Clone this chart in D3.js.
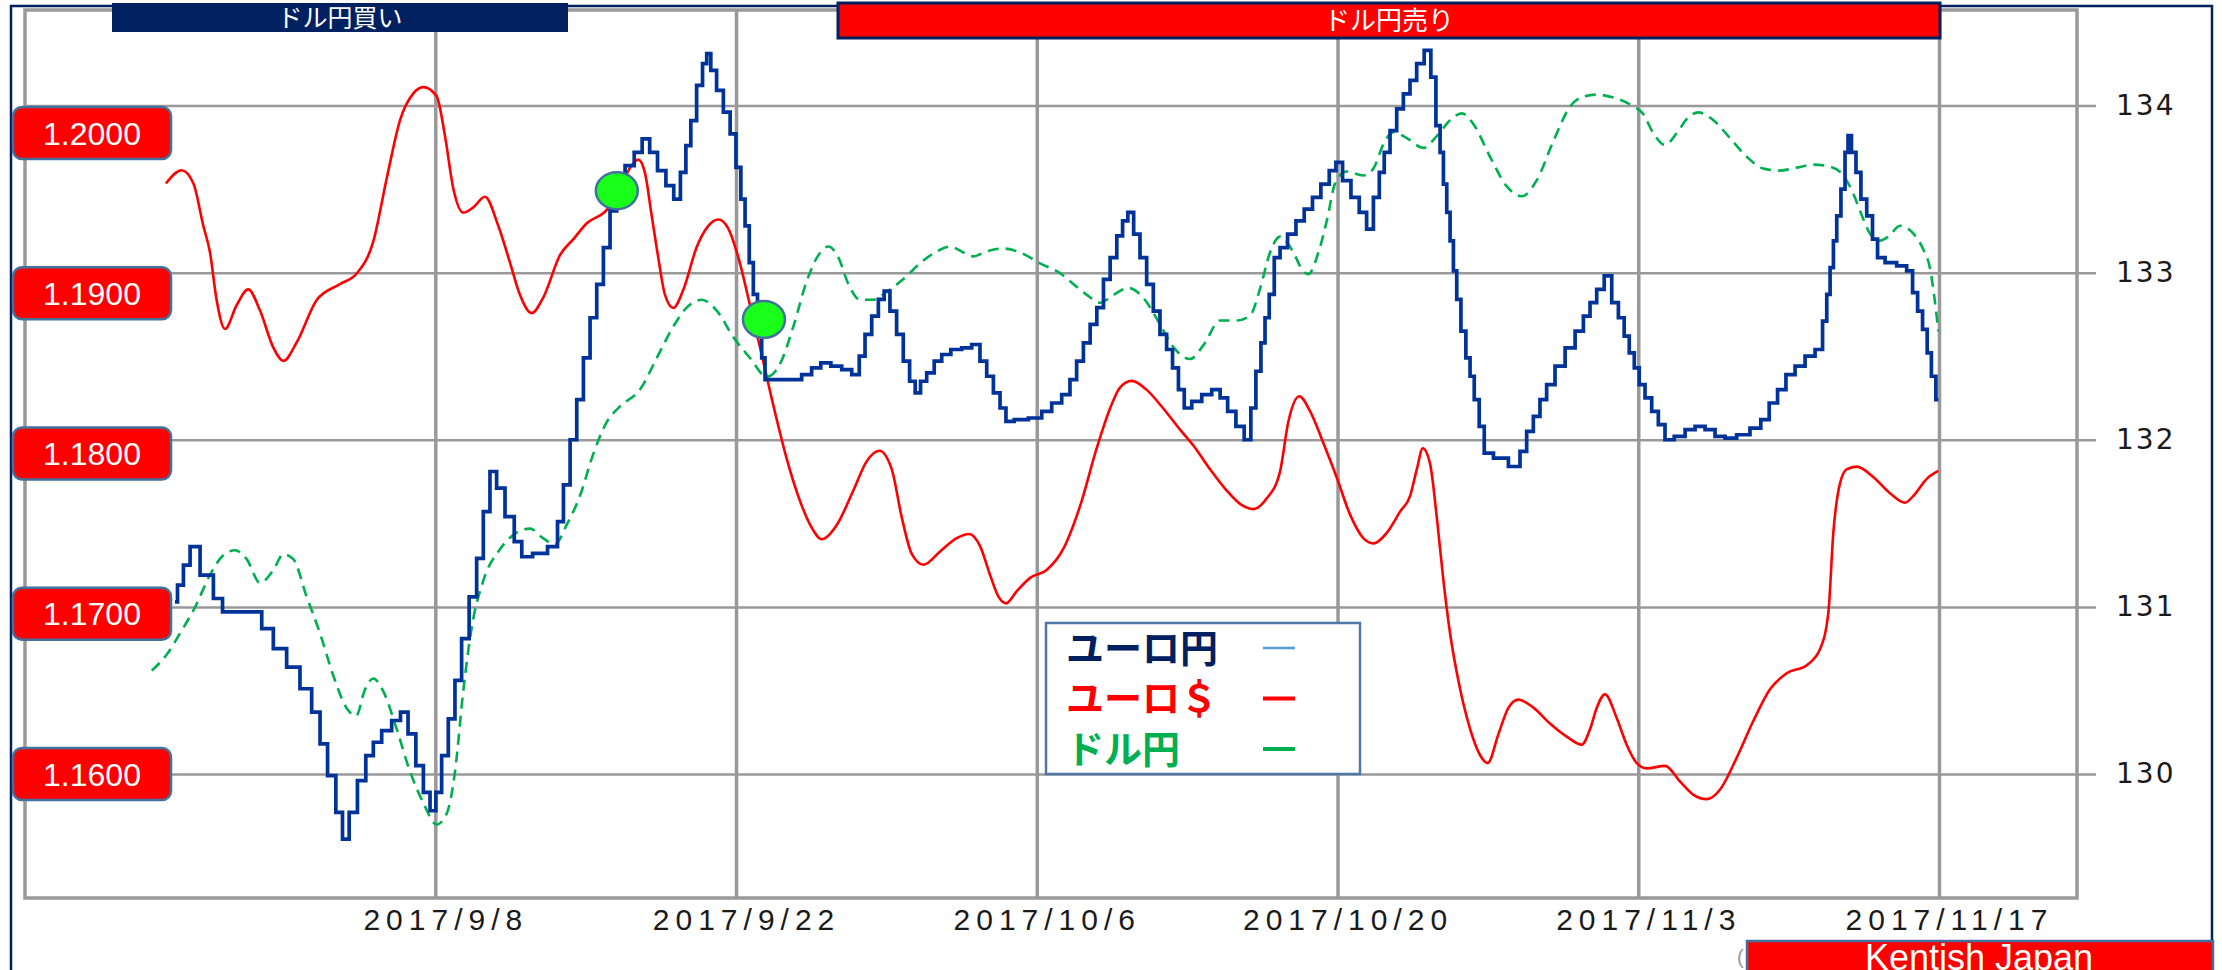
<!DOCTYPE html>
<html>
<head>
<meta charset="utf-8">
<script src="https://cdn.jsdelivr.net/npm/d3@7"></script>
<style>
body{margin:0;background:#fff;}
svg{display:block;}
</style>
</head>
<body>
<div id="vis"></div>
<script>
// x is days counted from 2017/9/8
var xTickDays = [0,14,28,42,56,70]
var xTickLabels = ["2017/9/8","2017/9/22","2017/10/6","2017/10/20","2017/11/3","2017/11/17"]
var yenTicks = [130,131,132,133,134]
var dollarTicks = [1.20,1.19,1.18,1.17,1.16]
var legendNames = ["ユーロ円","ユーロ＄","ドル円"]
var legendColors = ["#002060","#ff0000","#00b050"]
var legendDashColors = ["#5b9bd5","#ff0000","#00b050"]
var markerDays = [8.45,15.3]
var markerValues = [133.49,132.72]

// ユーロ円 (right axis)
var euroYen = [[-12.12,131.03],[-11.88,131.13],[-11.57,131.25],[-11.26,131.36],[-10.64,131.19],[-10.02,131.05],[-9.79,130.97],[-8.31,130.97],[-7.85,130.87],[-7.23,130.75],[-6.61,130.64],[-5.99,130.51],[-5.52,130.37],[-5.21,130.18],[-4.82,129.99],[-4.44,129.77],[-4.20,129.61],[-3.82,129.77],[-3.43,129.96],[-3.04,130.11],[-2.73,130.19],[-2.26,130.26],[-1.80,130.32],[-1.44,130.37],[-1.10,130.24],[-0.71,130.05],[-0.40,129.89],[-0.09,129.78],[0.14,129.89],[0.45,130.11],[0.76,130.33],[1.07,130.56],[1.38,130.81],[1.77,131.06],[2.08,131.29],[2.39,131.57],[2.70,131.81],[3.01,131.71],[3.48,131.54],[3.87,131.39],[4.18,131.30],[4.88,131.32],[5.57,131.36],[5.81,131.51],[6.12,131.73],[6.43,132.00],[6.74,132.24],[7.05,132.49],[7.36,132.73],[7.67,132.93],[7.98,133.15],[8.29,133.37],[8.60,133.53],
  [9.07,133.64],[9.45,133.72],[9.81,133.80],[10.15,133.72],[10.54,133.61],[10.93,133.52],[11.27,133.44],[11.55,133.60],[11.78,133.76],[12.01,133.91],[12.32,134.12],[12.56,134.25],[12.71,134.31],[12.94,134.21],[13.25,134.09],[13.57,133.96],[13.88,133.83],[14.11,133.63],[14.34,133.44],[14.50,133.28],[14.73,133.06],[14.88,132.87],[15.12,132.65],[15.27,132.49],[15.43,132.36],[16.82,132.36],[17.29,132.39],[17.75,132.43],[18.14,132.46],[18.69,132.44],[19.15,132.42],[19.62,132.39],[19.85,132.50],[20.16,132.63],[20.47,132.74],[20.78,132.84],[21.01,132.89],[21.32,132.77],[21.63,132.63],[21.94,132.47],[22.22,132.35],[22.46,132.28],[22.72,132.35],[23.03,132.40],[23.42,132.47],[23.73,132.51],[24.27,132.54],[24.74,132.55],[25.20,132.57],[25.51,132.47],[25.83,132.38],[26.13,132.28],[26.45,132.19],[26.68,132.11],[27.22,132.12],[28.00,132.13],[28.46,132.17],[28.93,132.22],[29.39,132.27],[29.70,132.36],[30.01,132.47],[30.33,132.58],[30.64,132.69],[30.95,132.79],
  [31.26,132.96],[31.57,133.09],[31.88,133.22],[32.11,133.31],[32.37,133.36],[32.65,133.23],[32.96,133.09],[33.27,132.93],[33.58,132.77],[33.89,132.63],[34.20,132.54],[34.44,132.43],[34.75,132.30],[34.98,132.19],[35.45,132.23],[35.91,132.27],[36.38,132.30],[36.69,132.25],[37.08,132.17],[37.46,132.08],[37.85,132.00],[38.08,132.19],[38.32,132.41],[38.55,132.58],[38.70,132.73],[38.94,132.87],[39.17,133.09],[39.48,133.15],[39.87,133.23],[40.26,133.31],[40.64,133.38],[41.03,133.45],[41.42,133.53],[41.81,133.61],[42.04,133.66],[42.43,133.55],[42.82,133.45],[43.20,133.36],[43.51,133.26],[43.83,133.45],[44.06,133.60],[44.29,133.72],[44.60,133.85],[44.91,133.98],[45.22,134.07],[45.53,134.15],[45.84,134.25],[46.23,134.33],[46.46,134.17],[46.70,133.88],[46.85,133.72],[47.01,133.53],[47.16,133.36],[47.32,133.19],[47.47,133.01],[47.63,132.84],[47.86,132.65],[48.09,132.49],[48.25,132.38],[48.48,132.24],[48.71,132.08],[48.95,131.92],[49.57,131.89],[50.34,131.84],[50.65,131.93],[50.96,132.05],[51.27,132.14],[51.58,132.24],[51.89,132.33],[52.36,132.44],[52.83,132.55],[53.29,132.65],
  [53.60,132.74],[53.91,132.82],[54.22,132.90],[54.61,132.98],[54.92,132.82],[55.23,132.73],[55.46,132.62],[55.70,132.52],[55.93,132.43],[56.16,132.33],[56.47,132.25],[56.78,132.17],[57.09,132.09],[57.40,132.00],[57.95,132.02],[58.41,132.06],[58.88,132.08],[59.34,132.06],[59.81,132.02],[60.27,132.01],[60.89,132.03],[61.51,132.07],[61.90,132.12],[62.29,132.22],[62.68,132.30],[63.07,132.39],[63.53,132.44],[64.00,132.50],[64.46,132.54],[64.70,132.71],[64.85,132.87],[65.01,133.03],[65.16,133.19],[65.32,133.34],[65.55,133.50],[65.70,133.72],[65.83,133.82],[66.02,133.72],[66.25,133.60],[66.48,133.44],[66.79,133.34],[67.02,133.20],[67.26,133.09],[67.72,133.06],[68.34,133.04],[68.65,133.01],[68.89,132.88],[69.12,132.77],[69.35,132.66],[69.55,132.52],[69.74,132.38],[69.97,132.24]]

// ユーロ＄ (left labels)
var euroDollar = [[-12.54,1.19685],[-11.81,1.19768],[-11.26,1.19685],[-10.80,1.19421],[-10.49,1.19256],[-10.18,1.18958],[-9.79,1.18777],[-9.25,1.18925],[-8.71,1.19024],[-8.16,1.18892],[-7.54,1.18661],[-7.07,1.18578],[-6.45,1.18694],[-5.52,1.18958],[-4.44,1.19057],[-3.66,1.19123],[-2.89,1.19322],[-2.26,1.19718],[-1.64,1.20081],[-1.02,1.20247],[-0.56,1.20286],[0.06,1.20230],[0.45,1.19982],[0.84,1.19652],[1.30,1.19503],[1.77,1.19536],[2.31,1.19602],[2.93,1.19421],[3.48,1.19190],[3.94,1.18991],[4.49,1.18876],[5.03,1.18975],[5.81,1.19239],[6.43,1.19338],[7.05,1.19437],[7.98,1.19520],[8.60,1.19652],
  [9.07,1.19784],[9.45,1.19834],[9.76,1.19751],[10.07,1.19487],[10.38,1.19222],[10.69,1.18991],[11.08,1.18908],[11.55,1.19024],[12.17,1.19289],[12.71,1.19421],[13.18,1.19460],[13.64,1.19404],[14.11,1.19222],[14.65,1.18925],[15.12,1.18661],[15.74,1.18298],[16.36,1.17967],[16.98,1.17703],[17.52,1.17538],[17.99,1.17465],[18.69,1.17554],[19.46,1.17769],[20.08,1.17951],[20.67,1.18017],[21.25,1.17901],[21.71,1.17604],[22.18,1.17373],[22.72,1.17306],[23.50,1.17389],[24.27,1.17472],[24.86,1.17498],[25.36,1.17422],[25.83,1.17240],[26.21,1.17108],[26.57,1.17065],[27.07,1.17141],[27.69,1.17224],[28.46,1.17273],[29.24,1.17406],[30.01,1.17670],[30.79,1.18033],[31.41,1.18281],
  [31.88,1.18413],[32.42,1.18453],[33.12,1.18397],[33.89,1.18281],[34.67,1.18149],[35.29,1.18050],[36.07,1.17901],[36.84,1.17769],[37.46,1.17686],[38.08,1.17653],[38.70,1.17719],[39.32,1.17885],[39.71,1.18198],[40.22,1.18357],[40.72,1.18264],[41.34,1.18066],[41.96,1.17852],[42.58,1.17620],[43.20,1.17472],[43.67,1.17439],[44.29,1.17505],[44.91,1.17637],[45.38,1.17736],[45.69,1.17901],[45.97,1.18033],[46.31,1.17934],[46.62,1.17604],[46.93,1.17207],[47.24,1.16877],[47.63,1.16580],[48.17,1.16282],[48.64,1.16117],[48.99,1.16068],[49.49,1.16249],[49.96,1.16414],[50.42,1.16464],[51.12,1.16414],[51.89,1.16315],[52.67,1.16233],[53.37,1.16183],
  [53.76,1.16282],[54.07,1.16414],[54.45,1.16497],[55.00,1.16348],[55.46,1.16183],[55.93,1.16068],[56.39,1.16035],[57.25,1.16051],[57.95,1.15952],[58.57,1.15870],[59.19,1.15843],[59.81,1.15903],[60.58,1.16101],[61.36,1.16332],[62.14,1.16530],[62.91,1.16629],[63.84,1.16679],[64.46,1.16778],[64.85,1.17009],[65.08,1.17505],[65.32,1.17769],[65.70,1.17901],[66.17,1.17918],[66.95,1.17852],[67.72,1.17752],[68.42,1.17693],[68.81,1.17736],[69.43,1.17842],[69.97,1.17891]]

// ドル円 (own scale, no axis shown)
var dollarYen = [[-13.20,108.90],[-12.51,109.06],[-11.88,109.28],[-11.19,109.54],[-10.49,109.87],[-9.87,110.07],[-9.32,110.12],[-8.78,110.03],[-8.16,109.79],[-7.54,109.92],[-7.07,110.08],[-6.61,110.03],[-5.99,109.65],[-5.37,109.28],[-4.75,108.85],[-4.13,108.52],[-3.69,108.44],[-3.27,108.71],[-2.89,108.82],[-2.42,108.69],[-1.80,108.31],[-1.18,107.88],[-0.56,107.56],[0.06,107.34],[0.53,107.45],[0.92,107.88],[1.30,108.69],[1.69,109.33],[2.23,109.81],[3.01,110.13],[3.79,110.30],[4.41,110.34],[5.03,110.24],[5.57,110.18],[6.12,110.38],[6.73,110.67],[7.36,111.10],[7.98,111.42],[8.60,111.58],
  [9.53,111.75],[10.31,112.07],[11.08,112.39],[11.70,112.58],[12.40,112.66],[13.10,112.55],[13.88,112.28],[14.65,112.07],[15.43,111.88],[16.05,112.01],[16.67,112.39],[17.29,112.85],[17.83,113.11],[18.30,113.20],[18.76,113.09],[19.23,112.82],[19.77,112.66],[20.39,112.66],[21.01,112.74],[21.79,112.87],[22.57,113.03],[23.34,113.15],[23.96,113.20],[24.58,113.14],[25.05,113.10],[25.67,113.15],[26.45,113.18],[27.22,113.14],[28.15,113.03],[29.08,112.93],[29.70,112.82],[30.33,112.71],[30.95,112.63],
  [31.57,112.71],[32.26,112.78],[32.96,112.68],[33.66,112.44],[34.36,112.18],[35.14,112.06],[35.76,112.20],[36.53,112.45],[37.31,112.45],[37.93,112.50],[38.39,112.77],[38.86,113.14],[39.32,113.30],[39.87,113.17],[40.41,112.95],[40.64,112.92],[41.11,113.14],[41.50,113.46],[41.89,113.84],[42.43,113.96],[43.20,113.92],[43.67,113.99],[44.14,114.24],[44.60,114.36],[45.22,114.30],[46.00,114.20],[46.62,114.32],[47.24,114.48],[47.78,114.55],[48.33,114.44],[49.10,114.11],[49.88,113.81],[50.58,113.71],[51.27,113.87],[52.05,114.27],[52.83,114.62],[53.45,114.72],
  [54.07,114.74],[54.84,114.71],[55.62,114.64],[56.24,114.54],[56.70,114.35],[57.25,114.23],[57.79,114.35],[58.33,114.51],[58.80,114.56],[59.50,114.48],[60.27,114.30],[61.05,114.11],[61.83,113.99],[62.60,113.97],[63.38,114.00],[64.15,114.03],[64.93,114.01],[65.55,113.92],[66.02,113.73],[66.40,113.52],[66.79,113.33],[67.26,113.26],[67.64,113.30],[68.19,113.41],[68.81,113.33],[69.27,113.17],[69.58,112.98],[69.77,112.71],[69.97,112.34]]

var W = 2222, H = 970
var frame = {left:25, top:10, right:2077, bottom:898}
var gridGray = "#999999"

var svg = d3.select("#vis").append("svg").attr("width",W).attr("height",H)

var x = d3.scaleLinear().domain([0,70]).range([435.3,1939])
var yYen = d3.scaleLinear().domain([130,134]).range([774,105.5])
var yDollar = d3.scaleLinear().domain([1.16,1.20]).range([774,133])
var yDY = d3.scaleLinear().domain([107,115]).range([858,69])

//outer navy border
svg.append("path")
    .attr("d","M11,970 L11,6 L2212,6 L2212,941")
    .attr("fill","none").attr("stroke","#002060").attr("stroke-width",2.5)

//horizontal grid + right labels
var yAxis = d3.axisRight(yYen).tickValues(yenTicks)
    .tickSize(2096-frame.left).tickPadding(20).tickFormat(d3.format("d"))
var yg = svg.append("g").attr("transform","translate("+frame.left+",0)").call(yAxis)
yg.select(".domain").remove()
yg.selectAll("line").attr("stroke",gridGray).attr("stroke-width",2.5)
yg.selectAll("text")
    .attr("font-family","DejaVu Sans").attr("font-size",28).attr("letter-spacing",2)
    .attr("fill","#1a1a1a")

//vertical grid + date labels
var xAxis = d3.axisBottom(x).tickValues(xTickDays)
    .tickSize(-(frame.bottom-frame.top)).tickPadding(11)
    .tickFormat(function(d,i){ return xTickLabels[i] })
var xg = svg.append("g").attr("transform","translate(0,"+frame.bottom+")").call(xAxis)
xg.select(".domain").remove()
xg.selectAll("line").attr("stroke",gridGray).attr("stroke-width",3.5)
xg.selectAll("text")
    .attr("font-family","Liberation Sans, Arial, sans-serif").attr("font-size",30)
    .attr("letter-spacing",6).attr("dx",10).attr("fill","#1a1a1a")

//frame
svg.append("rect")
    .attr("x",frame.left).attr("y",frame.top)
    .attr("width",frame.right-frame.left).attr("height",frame.bottom-frame.top)
    .attr("fill","none").attr("stroke",gridGray).attr("stroke-width",3.5)

//lines
var dyLine = d3.line().x(function(d){return x(d[0])}).y(function(d){return yDY(d[1])})
    .curve(d3.curveMonotoneX)
svg.append("path").datum(dollarYen).attr("d",dyLine)
    .attr("fill","none").attr("stroke","#00b050").attr("stroke-width",2.6)
    .attr("stroke-dasharray","11,7")

var edLine = d3.line().x(function(d){return x(d[0])}).y(function(d){return yDollar(d[1])})
    .curve(d3.curveMonotoneX)
svg.append("path").datum(euroDollar).attr("d",edLine)
    .attr("fill","none").attr("stroke","#ff0000").attr("stroke-width",2.6)

var eyLine = d3.line().x(function(d){return x(d[0])}).y(function(d){return yYen(d[1])})
    .curve(d3.curveStep)
svg.append("path").datum(euroYen).attr("d",eyLine)
    .attr("fill","none").attr("stroke","#003399").attr("stroke-width",3.7)

//green markers
svg.selectAll(".marker").data(markerDays).enter().append("ellipse")
    .attr("class","marker")
    .attr("cx",function(d){return x(d)})
    .attr("cy",function(d,i){return yYen(markerValues[i])})
    .attr("rx",21).attr("ry",18.5)
    .attr("fill","#1aff1a").attr("stroke","#41719c").attr("stroke-width",2.5)

//left labels (ユーロ＄)
var lab = svg.selectAll(".dlab").data(dollarTicks).enter().append("g").attr("class","dlab")
    .attr("transform",function(d){return "translate(13,"+yDollar(d)+")"})
lab.append("rect").attr("x",0).attr("y",-26).attr("width",158).attr("height",52)
    .attr("rx",9).attr("fill","#ff0000").attr("stroke","#41719c").attr("stroke-width",2.5)
lab.append("text").attr("x",79).attr("y",0).attr("dy","0.36em")
    .attr("text-anchor","middle").attr("fill","#fff")
    .attr("font-family","Liberation Sans, Arial, sans-serif").attr("font-size",32)
    .text(function(d){return d3.format(".4f")(d)})

//legend
var lg = svg.append("g")
lg.append("rect").attr("x",1046).attr("y",623).attr("width",314).attr("height",151)
    .attr("fill","#fff").attr("stroke","#4f77aa").attr("stroke-width",2.5)
lg.selectAll("text").data(legendNames).enter().append("text")
    .attr("x",1066).attr("y",function(d,i){return 648+i*50.5})
    .attr("dy","0.36em")
    .attr("font-family","Noto Sans CJK JP").attr("font-weight","bold").attr("font-size",38)
    .attr("fill",function(d,i){return legendColors[i]})
    .text(function(d){return d})
lg.selectAll("line").data(legendDashColors).enter().append("line")
    .attr("x1",1263).attr("x2",1295)
    .attr("y1",function(d,i){return 648+i*50.5}).attr("y2",function(d,i){return 648+i*50.5})
    .attr("stroke",function(d){return d}).attr("stroke-width",function(d,i){return i==0?2.5:4})

//top banners
svg.append("rect").attr("x",112).attr("y",3).attr("width",456).attr("height",29)
    .attr("fill","#002060")
svg.append("text").attr("x",340).attr("y",18).attr("dy","0.35em").attr("text-anchor","middle")
    .attr("fill","#fff").attr("font-family","Noto Sans CJK JP").attr("font-size",25)
    .text("ドル円買い")
svg.append("rect").attr("x",838).attr("y",3).attr("width",1102).attr("height",35)
    .attr("fill","#ff0000").attr("stroke","#002060").attr("stroke-width",3)
svg.append("text").attr("x",1389).attr("y",21).attr("dy","0.35em").attr("text-anchor","middle")
    .attr("fill","#fff").attr("font-family","Noto Sans CJK JP").attr("font-size",26)
    .text("ドル円売り")

//footer
svg.append("text").attr("x",1737).attr("y",964).attr("fill","#999")
    .attr("font-family","Liberation Sans, Arial, sans-serif").attr("font-size",20).text("(")
svg.append("rect").attr("x",1747).attr("y",941).attr("width",466).attr("height",40)
    .attr("fill","#ff0000").attr("stroke","#41719c").attr("stroke-width",2.5)
svg.append("text").attr("x",1979).attr("y",970).attr("text-anchor","middle")
    .attr("fill","#fff").attr("font-family","Liberation Sans, Arial, sans-serif").attr("font-size",36)
    .text("Kentish Japan")
</script>
</body>
</html>
